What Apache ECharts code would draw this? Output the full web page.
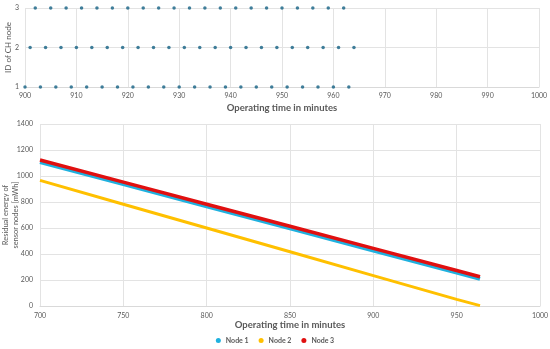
<!DOCTYPE html>
<html>
<head>
<meta charset="utf-8">
<script src="https://cdn.jsdelivr.net/npm/echarts@6/dist/echarts.min.js"></script>
<style>html,body{margin:0;padding:0;background:#fff}#c{width:550px;height:349px}</style>
</head>
<body>
<div id="c"></div>
<script>
// Top chart: cluster-head election times per node (minutes)
var chNode1Times = [900,903,906,909,912,915,918,921,924,927,930,933,936,939,942,945,948,951,954,957,960,963];
var chNode2Times = [901,904,907,910,913,916,919,922,925,928,931,934,937,940,943,946,949,952,955,958,961,964];
var chNode3Times = [902,905,908,911,914,917,920,923,926,929,932,935,938,941,944,947,950,953,956,959,962];
var chNodeIds = [1, 2, 3];

// Bottom chart: residual energy (mWh) vs operating time (minutes)
var energyTimes = [700, 750, 800, 850, 900, 950, 964];
var node1Energy = [1107, 937, 767, 597, 427, 257, 209];
var node2Energy = [966, 783, 600, 417, 234, 51, 3];
var node3Energy = [1123, 953, 783, 613, 443, 273, 225];
var seriesNames = ['Node 1', 'Node 2', 'Node 3'];

var FONT = 'Lato, "Open Sans", sans-serif';
var TXT = '#595959';

function pts(xs, y) { return xs.map(function (x) { return [x, y]; }); }
function pairs(xs, ys) { return xs.map(function (x, i) { return [x, ys[i]]; }); }
function plain(v) { return String(v); }

var chart = echarts.init(document.getElementById('c'), null, {renderer: 'canvas'});
var axisLab = {fontSize: 7, color: TXT, fontFamily: FONT, formatter: plain};
var gridLine = {show: true, lineStyle: {color: '#e3e3e3', width: 1}};
var option = {
  animation: false,
  backgroundColor: '#fff',
  textStyle: {fontFamily: FONT},
  grid: [
    {left: 25, right: 11, top: 8, height: 79, containLabel: false, outerBoundsMode: 'none'},
    {left: 40, right: 10, top: 124, height: 182, containLabel: false, outerBoundsMode: 'none'}
  ],
  xAxis: [
    {gridIndex: 0, type: 'value', min: 900, max: 1000, interval: 10,
     axisLine: {show: true, lineStyle: {color: '#d9d9d9'}}, axisTick: {show: false},
     axisLabel: Object.assign({margin: 5}, axisLab), splitLine: gridLine,
     name: 'Operating time in minutes', nameLocation: 'middle', nameGap: 16, nameMoveOverlap: false,
     nameTextStyle: {fontSize: 9.5, fontWeight: 'bold', color: TXT, fontFamily: FONT}},
    {gridIndex: 1, type: 'value', min: 700, max: 1000, interval: 50,
     axisLine: {show: true, lineStyle: {color: '#d9d9d9'}}, axisTick: {show: false},
     axisLabel: Object.assign({margin: 6}, axisLab), splitLine: gridLine,
     name: 'Operating time in minutes', nameLocation: 'middle', nameGap: 14, nameMoveOverlap: false,
     nameTextStyle: {fontSize: 9.5, fontWeight: 'bold', color: TXT, fontFamily: FONT}}
  ],
  yAxis: [
    {gridIndex: 0, type: 'value', min: chNodeIds[0], max: chNodeIds[2], interval: 1,
     axisLine: {show: false}, axisTick: {show: false},
     axisLabel: Object.assign({margin: 6}, axisLab), splitLine: gridLine,
     name: 'ID of CH node', nameLocation: 'middle', nameGap: 13, nameRotate: 90, nameMoveOverlap: false,
     nameTextStyle: {fontSize: 8, color: TXT, fontFamily: FONT}},
    {gridIndex: 1, type: 'value', min: 0, max: 1400, interval: 200,
     axisLine: {show: false}, axisTick: {show: false},
     axisLabel: Object.assign({margin: 7}, axisLab), splitLine: gridLine,
     name: 'Residual energy of\nsensor nodes [mWh]', nameLocation: 'middle', nameGap: 19, nameRotate: 90, nameMoveOverlap: false,
     nameTextStyle: {fontSize: 7.5, color: TXT, fontFamily: FONT, lineHeight: 10}}
  ],
  legend: {
    data: seriesNames, bottom: 0, left: 'center', icon: 'circle',
    itemWidth: 5, itemHeight: 5, itemGap: 10,
    textStyle: {fontSize: 7, color: TXT, fontFamily: FONT, fontWeight: 'bold'}
  },
  series: [
    {type: 'scatter', xAxisIndex: 0, yAxisIndex: 0, data: pts(chNode1Times, chNodeIds[0]),
     symbolSize: 3.5, itemStyle: {color: '#125f82'}, silent: true},
    {type: 'scatter', xAxisIndex: 0, yAxisIndex: 0, data: pts(chNode2Times, chNodeIds[1]),
     symbolSize: 3.5, itemStyle: {color: '#125f82'}, silent: true},
    {type: 'scatter', xAxisIndex: 0, yAxisIndex: 0, data: pts(chNode3Times, chNodeIds[2]),
     symbolSize: 3.5, itemStyle: {color: '#125f82'}, silent: true},
    {name: seriesNames[0], type: 'line', xAxisIndex: 1, yAxisIndex: 1, data: pairs(energyTimes, node1Energy),
     showSymbol: false, lineStyle: {color: '#1fb1df', width: 4}, itemStyle: {color: '#1fb1df'}},
    {name: seriesNames[1], type: 'line', xAxisIndex: 1, yAxisIndex: 1, data: pairs(energyTimes, node2Energy),
     showSymbol: false, lineStyle: {color: '#ffc000', width: 3}, itemStyle: {color: '#ffc000'}},
    {name: seriesNames[2], type: 'line', xAxisIndex: 1, yAxisIndex: 1, data: pairs(energyTimes, node3Energy),
     showSymbol: false, lineStyle: {color: '#e01010', width: 3.5}, itemStyle: {color: '#e01010'}}
  ]
};
chart.setOption(option);
</script>
</body>
</html>
